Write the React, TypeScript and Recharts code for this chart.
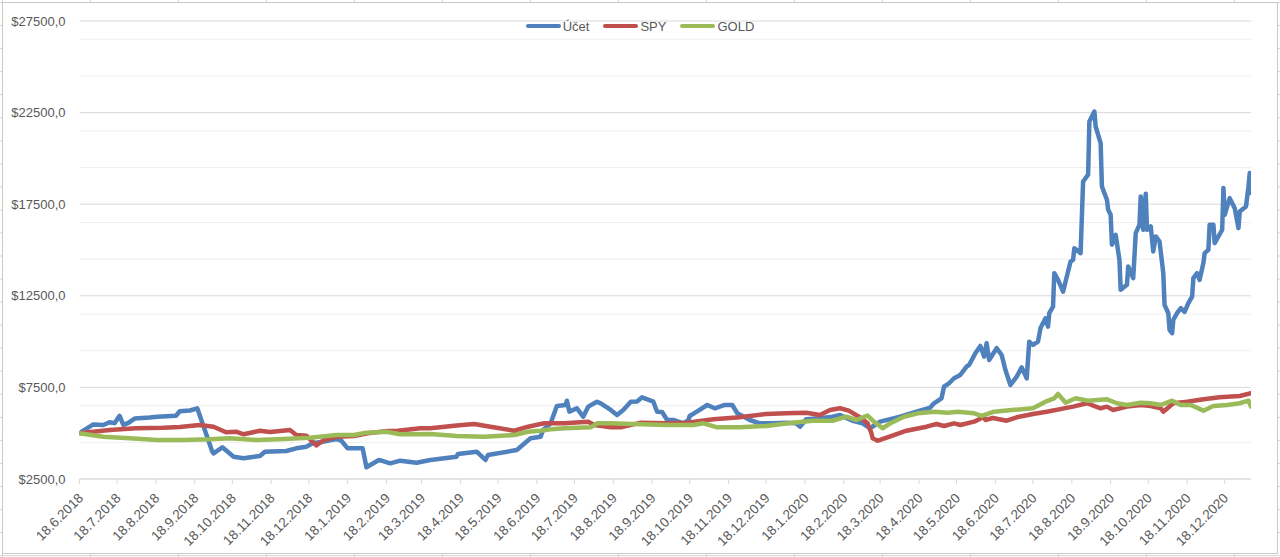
import React from 'react';
import { LineChart, Line, XAxis, YAxis, CartesianGrid, Legend } from 'recharts';

const FONT = '"Liberation Sans", Arial, sans-serif';
const TEXT = '#595959';

const X_TICK_LABELS = [
  '18.6.2018', '18.7.2018', '18.8.2018', '18.9.2018', '18.10.2018', '18.11.2018', '18.12.2018',
  '18.1.2019', '18.2.2019', '18.3.2019', '18.4.2019', '18.5.2019', '18.6.2019', '18.7.2019',
  '18.8.2019', '18.9.2019', '18.10.2019', '18.11.2019', '18.12.2019', '18.1.2020', '18.2.2020',
  '18.3.2020', '18.4.2020', '18.5.2020', '18.6.2020', '18.7.2020', '18.8.2020', '18.9.2020',
  '18.10.2020', '18.11.2020', '18.12.2020',
];
const X_START = '18.6.2018';
const X_END = '8.1.2021';

const Y_LABEL_TICKS = [2500, 7500, 12500, 17500, 22500, 27500];
const Y_MINOR_TICKS = [
  3500, 4500, 5500, 6500, 8500, 9500, 10500, 11500, 13500, 14500, 15500, 16500,
  18500, 19500, 20500, 21500, 23500, 24500, 25500, 26500,
];

const UCET: [string, number][] = [
  ['18.6.2018', 5000], ['29.6.2018', 5480], ['7.7.2018', 5450], ['12.7.2018', 5600], ['16.7.2018', 5550],
  ['20.7.2018', 5950], ['23.7.2018', 5450], ['27.7.2018', 5560], ['1.8.2018', 5800], ['13.8.2018', 5860],
  ['19.8.2018', 5900], ['3.9.2018', 5955], ['6.9.2018', 6200], ['14.9.2018', 6240], ['20.9.2018', 6360],
  ['2.10.2018', 3990], ['3.10.2018', 3900], ['10.10.2018', 4230], ['19.10.2018', 3716], ['27.10.2018', 3630],
  ['9.11.2018', 3755], ['13.11.2018', 3990], ['30.11.2018', 4030], ['8.12.2018', 4175], ['16.12.2018', 4260],
  ['21.12.2018', 4450], ['29.12.2018', 4535], ['9.1.2019', 4680], ['13.1.2019', 4590], ['18.1.2019', 4175],
  ['30.1.2019', 4175], ['2.2.2019', 3140], ['12.2.2019', 3540], ['21.2.2019', 3355], ['1.3.2019', 3500],
  ['14.3.2019', 3390], ['25.3.2019', 3540], ['15.4.2019', 3720], ['16.4.2019', 3865], ['1.5.2019', 3990],
  ['8.5.2019', 3540], ['10.5.2019', 3810], ['2.6.2019', 4080], ['13.6.2019', 4720], ['21.6.2019', 4810],
  ['23.6.2019', 5175], ['29.6.2019', 5540], ['4.7.2019', 6486], ['11.7.2019', 6540], ['12.7.2019', 6775],
  ['14.7.2019', 6175], ['20.7.2019', 6360], ['25.7.2019', 5900], ['29.7.2019', 6450], ['5.8.2019', 6720],
  ['8.8.2019', 6630], ['16.8.2019', 6270], ['21.8.2019', 5990], ['26.8.2019', 6270], ['1.9.2019', 6720],
  ['6.9.2019', 6730], ['10.9.2019', 6960], ['19.9.2019', 6720], ['22.9.2019', 6175], ['26.9.2019', 6160],
  ['30.9.2019', 5720], ['5.10.2019', 5720], ['13.10.2019', 5540], ['17.10.2019', 5720], ['18.10.2019', 5940],
  ['25.10.2019', 6230], ['1.11.2019', 6540], ['7.11.2019', 6360], ['15.11.2019', 6540], ['21.11.2019', 6540],
  ['25.11.2019', 6090], ['5.12.2019', 5720], ['13.12.2019', 5540], ['24.12.2019', 5540], ['3.1.2020', 5575],
  ['11.1.2020', 5540], ['14.1.2020', 5355], ['19.1.2020', 5760], ['30.1.2020', 5815], ['9.2.2020', 5900],
  ['15.2.2020', 5995], ['25.2.2020', 5680], ['4.3.2020', 5540], ['10.3.2020', 5270], ['18.3.2020', 5630],
  ['3.4.2020', 5900], ['16.4.2020', 6175], ['27.4.2020', 6400], ['30.4.2020', 6630], ['6.5.2020', 6905],
  ['8.5.2020', 7540], ['12.5.2020', 7725], ['16.5.2020', 8000], ['21.5.2020', 8180], ['26.5.2020', 8630],
  ['28.5.2020', 8725], ['2.6.2020', 9365], ['6.6.2020', 9760], ['9.6.2020', 9180], ['11.6.2020', 9910],
  ['13.6.2020', 9000], ['19.6.2020', 9640], ['23.6.2020', 9270], ['26.6.2020', 8450], ['30.6.2020', 7630],
  ['5.7.2020', 8085], ['9.7.2020', 8590], ['13.7.2020', 7995], ['15.7.2020', 9995], ['18.7.2020', 9820],
  ['22.7.2020', 9995], ['24.7.2020', 10740], ['28.7.2020', 11275], ['30.7.2020', 10820], ['31.7.2020', 11550],
  ['3.8.2020', 11910], ['4.8.2020', 13735], ['7.8.2020', 13370], ['11.8.2020', 12730], ['13.8.2020', 13280],
  ['17.8.2020', 14370], ['19.8.2020', 14465], ['20.8.2020', 15100], ['25.8.2020', 14830], ['27.8.2020', 18740],
  ['31.8.2020', 19110], ['1.9.2020', 22020], ['5.9.2020', 22560], ['6.9.2020', 21740], ['10.9.2020', 20835],
  ['11.9.2020', 18470], ['15.9.2020', 17740], ['16.9.2020', 17195], ['18.9.2020', 16920], ['19.9.2020', 15285],
  ['22.9.2020', 15830], ['25.9.2020', 14465], ['26.9.2020', 12825], ['1.10.2020', 13100], ['2.10.2020', 14100],
  ['6.10.2020', 13465], ['8.10.2020', 15925], ['11.10.2020', 16380], ['12.10.2020', 17925], ['14.10.2020', 16105],
  ['16.10.2020', 18070], ['17.10.2020', 16105], ['20.10.2020', 16285], ['22.10.2020', 14920], ['24.10.2020', 15740],
  ['27.10.2020', 15465], ['30.10.2020', 13735], ['31.10.2020', 12005], ['3.11.2020', 11550], ['4.11.2020', 10640],
  ['6.11.2020', 10460], ['7.11.2020', 11185], ['10.11.2020', 11550], ['13.11.2020', 11825], ['16.11.2020', 11620],
  ['19.11.2020', 12095], ['22.11.2020', 12460], ['23.11.2020', 13465], ['26.11.2020', 13735], ['28.11.2020', 13370],
  ['1.12.2020', 14285], ['2.12.2020', 14830], ['5.12.2020', 15010], ['6.12.2020', 16380], ['9.12.2020', 16380],
  ['10.12.2020', 15375], ['16.12.2020', 16105], ['17.12.2020', 18380], ['18.12.2020', 16920], ['22.12.2020', 17830],
  ['26.12.2020', 17285], ['29.12.2020', 16195], ['30.12.2020', 17100], ['4.1.2021', 17375], ['6.1.2021', 18470],
  ['7.1.2021', 19200], ['8.1.2021', 18105],
];

const SPY: [string, number][] = [
  ['18.6.2018', 5000], ['12.7.2018', 5175], ['2.8.2018', 5270], ['24.8.2018', 5300], ['6.9.2018', 5340],
  ['22.9.2018', 5450], ['3.10.2018', 5355], ['13.10.2018', 5050], ['21.10.2018', 5080], ['27.10.2018', 4940],
  ['9.11.2018', 5135], ['17.11.2018', 5065], ['3.12.2018', 5175], ['8.12.2018', 4900], ['16.12.2018', 4865],
  ['24.12.2018', 4330], ['30.12.2018', 4630], ['10.1.2019', 4810], ['23.1.2019', 4845], ['3.2.2019', 4995],
  ['19.2.2019', 5120], ['27.2.2019', 5135], ['17.3.2019', 5270], ['25.3.2019', 5270], ['15.4.2019', 5420],
  ['29.4.2019', 5500], ['12.5.2019', 5355], ['31.5.2019', 5135], ['11.6.2019', 5355], ['24.6.2019', 5540],
  ['10.7.2019', 5540], ['29.7.2019', 5630], ['3.8.2019', 5450], ['16.8.2019', 5320], ['24.8.2019', 5320],
  ['9.9.2019', 5575], ['30.9.2019', 5540], ['16.10.2019', 5575], ['6.11.2019', 5760], ['27.11.2019', 5870],
  ['18.12.2019', 6050], ['3.1.2020', 6085], ['19.1.2020', 6120], ['30.1.2020', 5995], ['7.2.2020', 6265],
  ['15.2.2020', 6360], ['22.2.2020', 6230], ['3.3.2020', 5815], ['8.3.2020', 5540], ['11.3.2020', 5010],
  ['12.3.2020', 4720], ['16.3.2020', 4590], ['18.3.2020', 4630], ['29.3.2020', 4900], ['8.4.2020', 5135],
  ['24.4.2020', 5355], ['2.5.2020', 5500], ['8.5.2020', 5395], ['16.5.2020', 5540], ['21.5.2020', 5450],
  ['1.6.2020', 5630], ['9.6.2020', 5900], ['10.6.2020', 5720], ['16.6.2020', 5830], ['27.6.2020', 5680],
  ['5.7.2020', 5870], ['18.7.2020', 6050], ['29.7.2020', 6175], ['19.8.2020', 6450], ['30.8.2020', 6635],
  ['10.9.2020', 6360], ['15.9.2020', 6450], ['20.9.2020', 6265], ['1.10.2020', 6450], ['12.10.2020', 6540],
  ['20.10.2020', 6485], ['28.10.2020', 6360], ['30.10.2020', 6175], ['7.11.2020', 6635], ['18.11.2020', 6720],
  ['1.12.2020', 6850], ['14.12.2020', 6960], ['30.12.2020', 7030], ['8.1.2021', 7180],
];

const GOLD: [string, number][] = [
  ['18.6.2018', 5000], ['7.7.2018', 4810], ['28.7.2018', 4720], ['19.8.2018', 4630], ['9.9.2018', 4630],
  ['30.9.2018', 4665], ['16.10.2018', 4720], ['6.11.2018', 4630], ['28.11.2018', 4685], ['19.12.2018', 4755],
  ['9.1.2019', 4900], ['23.1.2019', 4900], ['2.2.2019', 5030], ['18.2.2019', 5080], ['1.3.2019', 4940],
  ['25.3.2019', 4955], ['15.4.2019', 4845], ['7.5.2019', 4810], ['31.5.2019', 4900], ['11.6.2019', 5080],
  ['21.6.2019', 5135], ['29.6.2019', 5215], ['10.7.2019', 5270], ['31.7.2019', 5320], ['5.8.2019', 5540],
  ['16.8.2019', 5540], ['3.9.2019', 5500], ['30.9.2019', 5450], ['21.10.2019', 5450], ['29.10.2019', 5540],
  ['9.11.2019', 5320], ['27.11.2019', 5320], ['18.12.2019', 5395], ['8.1.2020', 5575], ['24.1.2020', 5680],
  ['9.2.2020', 5680], ['20.2.2020', 5900], ['28.2.2020', 5720], ['8.3.2020', 5965], ['13.3.2020', 5630],
  ['20.3.2020', 5270], ['27.3.2020', 5575], ['6.4.2020', 5900], ['17.4.2020', 6085], ['30.4.2020', 6175],
  ['11.5.2020', 6120], ['19.5.2020', 6175], ['1.6.2020', 6085], ['7.6.2020', 5940], ['17.6.2020', 6175],
  ['1.7.2020', 6265], ['18.7.2020', 6360], ['28.7.2020', 6720], ['4.8.2020', 6905], ['7.8.2020', 7140],
  ['13.8.2020', 6665], ['21.8.2020', 6905], ['31.8.2020', 6775], ['15.9.2020', 6850], ['23.9.2020', 6635],
  ['1.10.2020', 6540], ['12.10.2020', 6665], ['20.10.2020', 6635], ['28.10.2020', 6540], ['6.11.2020', 6775],
  ['13.11.2020', 6540], ['21.11.2020', 6540], ['1.12.2020', 6230], ['9.12.2020', 6485], ['20.12.2020', 6540],
  ['30.12.2020', 6635], ['6.1.2021', 6775], ['8.1.2021', 6450],
];

const SERIES_NAMES = ['Účet', 'SPY', 'GOLD'];
const SERIES_COLORS = ['#4F81BD', '#C0504D', '#9BBB59'];

const parseDate = (s: string) => {
  const [d, m, y] = s.split('.').map(Number);
  return Date.UTC(y, m - 1, d);
};
const toRows = (pts: [string, number][]) => pts.map(([d, v]) => ({ t: parseDate(d), v }));
const SERIES_DATA = [toRows(UCET), toRows(SPY), toRows(GOLD)];
const X_TICKS = X_TICK_LABELS.map(parseDate);

const fmtDate = (ms: number) => {
  const d = new Date(ms);
  return `${d.getUTCDate()}.${d.getUTCMonth() + 1}.${d.getUTCFullYear()}`;
};

const XTick = (props: any) => {
  const { x, y, payload } = props;
  const px = x + 4.5;
  const py = y + 13;
  return (
    <text x={px} y={py} transform={`rotate(-45 ${px} ${py})`} textAnchor="end" fill={TEXT} fontSize={13.5} fontFamily={FONT}>
      {fmtDate(payload.value)}
    </text>
  );
};

const LegendContent = () => (
  <div style={{ display: 'flex', justifyContent: 'center', alignItems: 'center', width: 1280, height: 18, fontFamily: FONT, fontSize: 13, color: TEXT }}>
    {SERIES_NAMES.map((n, i) => (
      <div key={n} style={{ display: 'flex', alignItems: 'center', marginRight: i < 2 ? 14 : 0 }}>
        <span style={{ display: 'inline-block', width: 35, height: 4.5, borderRadius: 3, background: SERIES_COLORS[i], marginRight: 2 }} />
        <span>{n}</span>
      </div>
    ))}
  </div>
);

export default function App() {
  return (
    <div
      style={{
        position: 'absolute', left: 0, top: 0, width: 1280, height: 557, overflow: 'hidden', background: '#fff',
        backgroundImage: 'linear-gradient(to right, #d4d4d4 1px, transparent 1px), linear-gradient(to bottom, #d4d4d4 1px, transparent 1px)',
        backgroundSize: '88px 23.05px', backgroundPosition: '2px 2px',
      }}
    >
      <div style={{ position: 'absolute', left: 2, top: 2, width: 1276, height: 552, boxSizing: 'border-box', border: '1px solid #c8c8c8', background: '#fff' }} />
      <div style={{ position: 'absolute', left: 0, top: 0 }}>
        <LineChart width={1280} height={557} margin={{ top: 21, right: 29, bottom: 8, left: 9.5 }} style={{ fontFamily: FONT }}>
          <CartesianGrid vertical={false} horizontalValues={Y_MINOR_TICKS} stroke="#efefef" strokeWidth={1} />
          <CartesianGrid vertical={false} horizontalValues={Y_LABEL_TICKS} stroke="#d9d9d9" strokeWidth={1} />
          <XAxis
            dataKey="t" type="number" domain={[parseDate(X_START), parseDate(X_END)]} ticks={X_TICKS} interval={0}
            allowDataOverflow height={70} tick={<XTick />} tickSize={5} tickMargin={2}
            axisLine={{ stroke: '#d9d9d9' }} tickLine={{ stroke: '#d9d9d9' }}
          />
          <YAxis
            type="number" domain={[2500, 27500]} ticks={Y_LABEL_TICKS} width={70} axisLine={false} tickLine={false}
            tickSize={0} tickMargin={14} tickFormatter={(v: number) => `$${v},0`}
            tick={{ fill: TEXT, fontSize: 13, fontFamily: FONT }} allowDataOverflow
          />
          <Legend content={<LegendContent />} layout="horizontal" verticalAlign="middle" align="center" wrapperStyle={{ top: 17, left: 0, width: 1280 }} />
          {SERIES_DATA.map((d, i) => (
            <Line
              key={SERIES_NAMES[i]} name={SERIES_NAMES[i]} data={d} dataKey="v" type="linear" stroke={SERIES_COLORS[i]}
              strokeWidth={4.5} dot={false} activeDot={false} isAnimationActive={false} strokeLinejoin="round" strokeLinecap="round"
            />
          ))}
        </LineChart>
      </div>
    </div>
  );
}
